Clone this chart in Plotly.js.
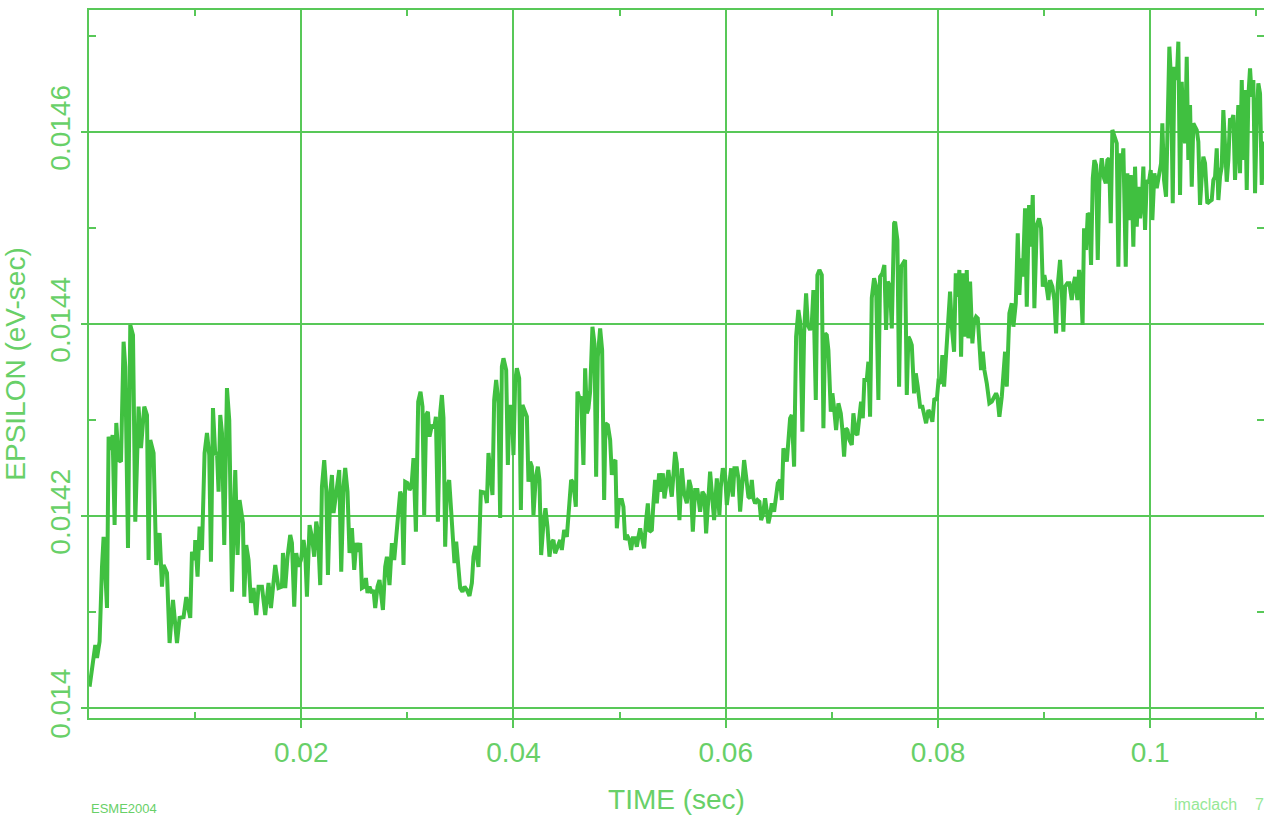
<!DOCTYPE html>
<html>
<head>
<meta charset="utf-8">
<script src="https://cdn.plot.ly/plotly-3.0.1.min.js"></script>
<style>
  html, body { margin: 0; padding: 0; background: #ffffff; }
  #chart { width: 1264px; height: 815px; }
</style>
</head>
<body>
<div id="chart"></div>
<script>
// TIME (sec)
const timeSec = [
0.000057,0.000593,0.000754,0.000999,0.001225,0.001375,0.001696,0.001846,0.002072,0.002223,
0.002412,0.002572,0.002788,0.003014,0.003259,0.003419,0.003674,0.003890,0.004145,0.004361,
0.004672,0.004898,0.005209,0.005464,0.005614,0.005774,0.006085,0.006340,0.006651,0.006877,
0.007027,0.007348,0.007593,0.007913,0.008290,0.008535,0.008911,0.009166,0.009542,0.009703,
0.009948,0.010013,0.010230,0.010419,0.010645,0.010890,0.011116,0.011332,0.011492,0.011681,
0.011897,0.012058,0.012208,0.012368,0.012529,0.012745,0.013000,0.013216,0.013471,0.013781,
0.013998,0.014187,0.014507,0.014629,0.014818,0.015034,0.015260,0.015505,0.015760,0.015976,
0.016297,0.016607,0.016918,0.017144,0.017549,0.017860,0.018181,0.018275,0.018491,0.018708,
0.018962,0.019123,0.019339,0.019528,0.019744,0.019970,0.020215,0.020375,0.020536,0.020781,
0.021007,0.021223,0.021412,0.021572,0.021788,0.021949,0.022165,0.022354,0.022514,0.022730,
0.022891,0.023041,0.023296,0.023578,0.023767,0.023983,0.024143,0.024360,0.024549,0.024775,
0.024991,0.025180,0.025396,0.025556,0.025717,0.025933,0.026093,0.026244,0.026433,0.026659,
0.026809,0.026969,0.027186,0.027375,0.027535,0.027695,0.027911,0.028072,0.028317,0.028543,
0.028759,0.028948,0.029108,0.029324,0.029485,0.029635,0.029795,0.030012,0.030201,0.030389,
0.030577,0.030803,0.031020,0.031237,0.031425,0.031585,0.031774,0.031934,0.032085,0.032311,
0.032527,0.032687,0.032876,0.033092,0.033253,0.033403,0.033563,0.033724,0.033940,0.034129,
0.034289,0.034440,0.034600,0.034760,0.034976,0.035193,0.035382,0.035608,0.035853,0.036079,
0.036229,0.036418,0.036700,0.036926,0.037331,0.037492,0.037642,0.038019,0.038179,0.038368,
0.038584,0.038744,0.038905,0.039055,0.039310,0.039470,0.039621,0.039847,0.039997,0.040158,
0.040318,0.040535,0.040695,0.040845,0.041034,0.041260,0.041410,0.041570,0.041731,0.041881,
0.042107,0.042296,0.042447,0.042607,0.042823,0.043012,0.043200,0.043389,0.043549,0.043765,
0.043925,0.044142,0.044396,0.044557,0.044773,0.045028,0.045244,0.045432,0.045649,0.045875,
0.046026,0.046215,0.046375,0.046591,0.046751,0.046912,0.047062,0.047222,0.047439,0.047628,
0.047788,0.047948,0.048165,0.048353,0.048542,0.048665,0.048891,0.049107,0.049268,0.049484,
0.049606,0.049738,0.049954,0.050209,0.050359,0.050519,0.050680,0.050925,0.051085,0.051245,
0.051462,0.051622,0.051772,0.051932,0.052149,0.052309,0.052498,0.052658,0.052809,0.053035,
0.053185,0.053345,0.053506,0.053722,0.053910,0.054071,0.054222,0.054448,0.054598,0.054758,
0.054919,0.055230,0.055390,0.055635,0.055861,0.056078,0.056332,0.056549,0.056709,0.056897,
0.057114,0.057331,0.057585,0.057802,0.057990,0.058150,0.058367,0.058527,0.058744,0.058904,
0.059158,0.059403,0.059535,0.059724,0.059941,0.060101,0.060346,0.060507,0.060667,0.060818,
0.061044,0.061194,0.061354,0.061515,0.061731,0.061920,0.062136,0.062296,0.062457,0.062607,
0.062767,0.062984,0.063172,0.063333,0.063493,0.063709,0.063870,0.064020,0.064180,0.064340,
0.064557,0.064746,0.064906,0.065123,0.065283,0.065433,0.065594,0.065754,0.065905,0.066065,
0.066225,0.066442,0.066630,0.066847,0.067007,0.067224,0.067384,0.067572,0.067733,0.067949,
0.068109,0.068260,0.068486,0.068637,0.068825,0.069051,0.069202,0.069362,0.069522,0.069673,
0.069899,0.070050,0.070210,0.070398,0.070615,0.070841,0.070992,0.071152,0.071312,0.071463,
0.071651,0.071877,0.072028,0.072254,0.072405,0.072593,0.072753,0.072914,0.073064,0.073290,
0.073441,0.073601,0.073761,0.073978,0.074166,0.074383,0.074543,0.074760,0.074948,0.075109,
0.075269,0.075486,0.075646,0.075863,0.075957,0.076174,0.076334,0.076522,0.076739,0.076899,
0.077060,0.077210,0.077370,0.077530,0.077747,0.077907,0.078096,0.078313,0.078529,0.078690,
0.078878,0.079095,0.079255,0.079472,0.079660,0.079886,0.080037,0.080263,0.080414,0.080574,
0.080885,0.081139,0.081300,0.081516,0.081676,0.081827,0.082016,0.082176,0.082336,0.082487,
0.082713,0.082864,0.083024,0.083241,0.083401,0.083589,0.083750,0.083900,0.084060,0.084221,
0.084372,0.084598,0.084843,0.085069,0.085285,0.085474,0.085596,0.085785,0.086011,0.086162,
0.086322,0.086482,0.086727,0.086953,0.087104,0.087330,0.087518,0.087669,0.087829,0.087989,
0.088206,0.088366,0.088583,0.088743,0.088931,0.089082,0.089308,0.089525,0.089713,0.089874,
0.090024,0.090250,0.090401,0.090561,0.090778,0.090966,0.091127,0.091287,0.091504,0.091664,
0.091814,0.091975,0.092191,0.092380,0.092606,0.092757,0.092917,0.093134,0.093294,0.093482,
0.093623,0.093765,0.093953,0.094113,0.094264,0.094424,0.094584,0.094735,0.094895,0.095055,
0.095206,0.095432,0.095649,0.095809,0.095960,0.096120,0.096280,0.096431,0.096619,0.096845,
0.096996,0.097156,0.097317,0.097467,0.097693,0.097844,0.098004,0.098164,0.098315,0.098409,
0.098569,0.098730,0.098880,0.099040,0.099201,0.099351,0.099511,0.099672,0.099860,0.100048,
0.100199,0.100388,0.100614,0.100830,0.101019,0.101141,0.101301,0.101490,0.101650,0.101801,
0.101961,0.102121,0.102272,0.102498,0.102649,0.102809,0.102969,0.103120,0.103280,0.103440,
0.103591,0.103751,0.103912,0.104062,0.104222,0.104383,0.104533,0.104693,0.104854,0.105004,
0.105164,0.105381,0.105570,0.105796,0.105947,0.106107,0.106267,0.106418,0.106578,0.106738,
0.106889,0.107049,0.107210,0.107360,0.107520,0.107681,0.107831,0.107991,0.108152,0.108302,
0.108462,0.108623,0.108774,0.108934,0.109094,0.109245,0.109405,0.109565,0.109716,0.109876,
0.110037,0.110187,0.110347,0.110508,0.110658,0.110818
];

// EPSILON (eV-sec)
const epsilon = [
0.0140222,0.0140656,0.0140521,0.0140691,0.0141472,0.0141784,0.0141042,0.0142826,0.0142688,0.0142844,
0.0141906,0.0142969,0.0142583,0.0142566,0.0143816,0.0143555,0.0141667,0.0143990,0.0143885,0.0141941,
0.0143139,0.0142708,0.0143139,0.0143052,0.0141542,0.0142792,0.0142656,0.0141490,0.0141823,0.0141264,
0.0141490,0.0141406,0.0140677,0.0141125,0.0140677,0.0140938,0.0140948,0.0141156,0.0140938,0.0141628,
0.0141542,0.0141750,0.0141368,0.0141889,0.0141646,0.0142656,0.0142865,0.0142635,0.0141524,0.0143125,
0.0142635,0.0142670,0.0142253,0.0143052,0.0142865,0.0141698,0.0143333,0.0143000,0.0141211,0.0142479,
0.0141594,0.0142167,0.0141927,0.0141159,0.0141698,0.0141542,0.0141094,0.0141250,0.0140969,0.0141264,
0.0141264,0.0140969,0.0141302,0.0141042,0.0141490,0.0141250,0.0141264,0.0141615,0.0141250,0.0141576,
0.0141802,0.0141719,0.0141055,0.0141615,0.0141472,0.0141542,0.0141750,0.0141615,0.0141159,0.0141906,
0.0141784,0.0141576,0.0141941,0.0141836,0.0141281,0.0142305,0.0142583,0.0142271,0.0141385,0.0142240,
0.0142427,0.0142031,0.0142240,0.0142479,0.0141420,0.0142305,0.0142500,0.0142253,0.0141615,0.0141875,
0.0141438,0.0141719,0.0141628,0.0141719,0.0141250,0.0141264,0.0141354,0.0141198,0.0141264,0.0141198,
0.0141229,0.0141042,0.0141264,0.0141333,0.0141177,0.0141021,0.0141472,0.0141576,0.0141281,0.0141719,
0.0141542,0.0141823,0.0142031,0.0142253,0.0142201,0.0141490,0.0142357,0.0142344,0.0142271,0.0142305,
0.0142604,0.0141836,0.0143191,0.0143295,0.0143139,0.0142010,0.0143052,0.0143086,0.0142826,0.0142948,
0.0142917,0.0143034,0.0141941,0.0143073,0.0143260,0.0143021,0.0141680,0.0142292,0.0142375,0.0142031,
0.0141615,0.0141510,0.0141732,0.0141472,0.0141250,0.0141211,0.0141264,0.0141229,0.0141167,0.0141302,
0.0141576,0.0141688,0.0141469,0.0142253,0.0142243,0.0142135,0.0142656,0.0142219,0.0143208,0.0143417,
0.0143177,0.0141979,0.0143555,0.0143643,0.0143521,0.0142531,0.0143139,0.0143139,0.0142635,0.0143399,
0.0143539,0.0143434,0.0142063,0.0143156,0.0143104,0.0143034,0.0142357,0.0142566,0.0142514,0.0142010,
0.0142409,0.0142514,0.0142375,0.0141594,0.0141924,0.0142080,0.0141889,0.0141576,0.0141716,0.0141750,
0.0141611,0.0141680,0.0141750,0.0141646,0.0141854,0.0141784,0.0142149,0.0142375,0.0142341,0.0142097,
0.0143295,0.0143226,0.0143243,0.0142531,0.0143539,0.0143070,0.0143122,0.0143295,0.0143972,0.0143799,
0.0142409,0.0143659,0.0143955,0.0143729,0.0142167,0.0142966,0.0142948,0.0142792,0.0142427,0.0142566,
0.0142583,0.0141872,0.0142167,0.0142167,0.0142097,0.0141750,0.0141802,0.0141750,0.0141646,0.0141768,
0.0141768,0.0141680,0.0141784,0.0141872,0.0141750,0.0141664,0.0141958,0.0142132,0.0141836,0.0141854,
0.0142132,0.0142375,0.0142132,0.0142445,0.0142253,0.0142445,0.0142184,0.0142375,0.0142479,0.0142323,
0.0142201,0.0142667,0.0142549,0.0141958,0.0142497,0.0142236,0.0142132,0.0142375,0.0142305,0.0141836,
0.0142271,0.0142271,0.0142045,0.0142253,0.0142219,0.0141820,0.0142305,0.0142462,0.0142167,0.0141958,
0.0142393,0.0142010,0.0142305,0.0142497,0.0142427,0.0142115,0.0142341,0.0142497,0.0142201,0.0142497,
0.0142497,0.0142393,0.0142045,0.0142305,0.0142583,0.0142409,0.0142201,0.0142184,0.0142375,0.0142184,
0.0142132,0.0142167,0.0142149,0.0141958,0.0142010,0.0142184,0.0142045,0.0141924,0.0142010,0.0142132,
0.0142045,0.0142236,0.0142341,0.0142375,0.0142167,0.0142705,0.0142653,0.0142566,0.0142792,0.0143018,
0.0143052,0.0142514,0.0143868,0.0144146,0.0144024,0.0142878,0.0143903,0.0144320,0.0143990,0.0143938,
0.0144007,0.0144354,0.0143208,0.0144510,0.0144563,0.0144510,0.0142914,0.0143903,0.0143885,0.0143729,
0.0143086,0.0143278,0.0143122,0.0142896,0.0143174,0.0143070,0.0142896,0.0142618,0.0142914,0.0142896,
0.0142792,0.0142740,0.0143070,0.0142862,0.0142844,0.0143034,0.0143191,0.0143018,0.0143417,0.0143417,
0.0143607,0.0143034,0.0144271,0.0144476,0.0144396,0.0143208,0.0144493,0.0144528,0.0144615,0.0143938,
0.0144441,0.0144389,0.0143955,0.0145049,0.0145066,0.0144875,0.0143347,0.0144597,0.0144632,0.0144667,
0.0143260,0.0143868,0.0143833,0.0143781,0.0143278,0.0143486,0.0143347,0.0143139,0.0143139,0.0143052,
0.0142966,0.0143104,0.0143070,0.0142982,0.0143226,0.0143208,0.0143399,0.0143382,0.0143677,0.0143347,
0.0143833,0.0144337,0.0143972,0.0143711,0.0144528,0.0144284,0.0144563,0.0143659,0.0144528,0.0143868,
0.0144563,0.0143851,0.0144441,0.0143799,0.0144024,0.0144076,0.0144059,0.0143695,0.0143521,0.0143711,
0.0143521,0.0143382,0.0143174,0.0143191,0.0143243,0.0143278,0.0143243,0.0143034,0.0143243,0.0143469,
0.0143711,0.0143347,0.0144111,0.0144216,0.0143972,0.0144216,0.0144945,0.0144302,0.0144684,0.0144493,
0.0145205,0.0144180,0.0145240,0.0144805,0.0145344,0.0144164,0.0145031,0.0145101,0.0144997,0.0144389,
0.0144510,0.0144372,0.0144250,0.0144458,0.0144389,0.0144250,0.0143903,0.0144406,0.0144667,0.0144354,
0.0143920,0.0144389,0.0144424,0.0144424,0.0144250,0.0144406,0.0144490,0.0144250,0.0144563,0.0144354,
0.0143990,0.0144997,0.0144771,0.0145153,0.0145135,0.0144615,0.0145518,0.0145708,0.0145656,0.0144667,
0.0145482,0.0145726,0.0145518,0.0145466,0.0145708,0.0145726,0.0145049,0.0146021,0.0145969,0.0145882,
0.0144597,0.0145778,0.0145604,0.0145830,0.0144597,0.0145570,0.0145083,0.0145552,0.0145205,0.0144805,
0.0145639,0.0145014,0.0145430,0.0145101,0.0145274,0.0145639,0.0144979,0.0145500,0.0145466,0.0145604,
0.0145083,0.0145570,0.0145414,0.0145534,0.0145674,0.0146091,0.0145500,0.0145326,0.0146229,0.0146889,
0.0146542,0.0145257,0.0146680,0.0146542,0.0146941,0.0145344,0.0146524,0.0146055,0.0145882,0.0146784,
0.0145708,0.0146281,0.0145430,0.0146091,0.0146055,0.0146021,0.0145899,0.0145240,0.0145534,0.0145743,
0.0145674,0.0145257,0.0145274,0.0145292,0.0145500,0.0145534,0.0145830,0.0145292,0.0145534,0.0145639,
0.0146229,0.0145917,0.0145482,0.0145708,0.0146143,0.0146107,0.0146177,0.0145500,0.0146039,0.0146281,
0.0145570,0.0146542,0.0145708,0.0146438,0.0145396,0.0146368,0.0146664,0.0146368,0.0146542,0.0145362,
0.0146159,0.0146507,0.0146403,0.0145448,0.0145899,0.0145813
];

const xTickVals = [0.02, 0.04, 0.06, 0.08, 0.1];
const xTickText = ['0.02', '0.04', '0.06', '0.08', '0.1'];
const xMinorVals = [0.01, 0.03, 0.05, 0.07, 0.09, 0.11];
const yTickVals = [0.014, 0.0142, 0.0144, 0.0146];
const yTickText = ['0.014', '0.0142', '0.0144', '0.0146'];
const yMinorVals = [0.0141, 0.0143, 0.0145, 0.0147];

const lineGreen = 'rgb(64,192,64)';
const gridGreen = 'rgb(88,200,88)';
const textGreen = 'rgb(104,208,104)';
const FONT = 'Liberation Sans, Arial, sans-serif';

const trace = {
  x: timeSec,
  y: epsilon,
  type: 'scatter',
  mode: 'lines',
  line: { color: lineGreen, width: 4 },
  hoverinfo: 'skip',
  xaxis: 'x',
  yaxis: 'y'
};

const layout = {
  width: 1264,
  height: 815,
  margin: { l: 89, r: 0, t: 10, b: 97, pad: 0 },
  paper_bgcolor: '#ffffff',
  plot_bgcolor: '#ffffff',
  showlegend: false,
  font: { family: FONT, color: textGreen },
  xaxis: {
    range: [0, 0.11072],
    tickmode: 'array',
    tickvals: xTickVals,
    ticktext: xTickText,
    ticks: 'outside',
    ticklen: 8,
    tickwidth: 2,
    tickcolor: gridGreen,
    showgrid: true,
    gridcolor: gridGreen,
    gridwidth: 2,
    showline: true,
    linecolor: gridGreen,
    linewidth: 2,
    mirror: true,
    zeroline: false,
    tickfont: { family: FONT, size: 28, color: textGreen },
    title: { text: 'TIME (sec)', font: { family: FONT, size: 28, color: textGreen }, standoff: 28 },
    automargin: false,
    minor: { tickmode: 'array', tickvals: xMinorVals, ticks: 'inside', ticklen: 6, tickwidth: 2, tickcolor: gridGreen, showgrid: false }
  },
  yaxis: {
    range: [0.0139896, 0.0147271],
    tickmode: 'array',
    tickvals: yTickVals,
    ticktext: yTickText,
    tickangle: -90,
    ticks: 'outside',
    ticklen: 6,
    tickwidth: 2,
    tickcolor: gridGreen,
    showgrid: true,
    gridcolor: gridGreen,
    gridwidth: 2,
    showline: true,
    linecolor: gridGreen,
    linewidth: 2,
    mirror: true,
    zeroline: false,
    tickfont: { family: FONT, size: 28, color: textGreen },
    title: { text: 'EPSILON (eV-sec)', font: { family: FONT, size: 28, color: textGreen }, standoff: 11 },
    automargin: false,
    minor: { tickmode: 'array', tickvals: yMinorVals, ticks: 'inside', ticklen: 7, tickwidth: 2, tickcolor: gridGreen, showgrid: false }
  },
  xaxis2: {
    overlaying: 'x',
    matches: 'x',
    side: 'top',
    tickmode: 'array',
    tickvals: xMinorVals,
    ticks: 'inside',
    ticklen: 6,
    tickwidth: 2,
    tickcolor: gridGreen,
    showticklabels: false,
    showgrid: false,
    zeroline: false,
    showline: false
  },
  yaxis2: {
    overlaying: 'y',
    matches: 'y',
    side: 'right',
    tickmode: 'array',
    tickvals: yMinorVals,
    ticks: 'inside',
    ticklen: 7,
    tickwidth: 2,
    tickcolor: gridGreen,
    showticklabels: false,
    showgrid: false,
    zeroline: false,
    showline: false
  },
  annotations: [
    { text: 'ESME2004', xref: 'paper', yref: 'paper', x: 0, y: -0.1285, xanchor: 'left', yanchor: 'middle',
      showarrow: false, font: { family: FONT, size: 13, color: textGreen } },
    { text: 'imaclach&nbsp;&nbsp;&nbsp;&nbsp;7', xref: 'paper', yref: 'paper', x: 0.9217, y: -0.1365, xanchor: 'left', yanchor: 'bottom',
      showarrow: false, font: { family: FONT, size: 16, color: 'rgb(150,232,150)' } }
  ]
};

const ghost = { x: [0.05], y: [0.0143], type: 'scatter', mode: 'markers', marker: { opacity: 0 }, hoverinfo: 'skip', xaxis: 'x2', yaxis: 'y2' };

Plotly.newPlot('chart', [trace, ghost], layout, { displayModeBar: false, staticPlot: true });
</script>
</body>
</html>
